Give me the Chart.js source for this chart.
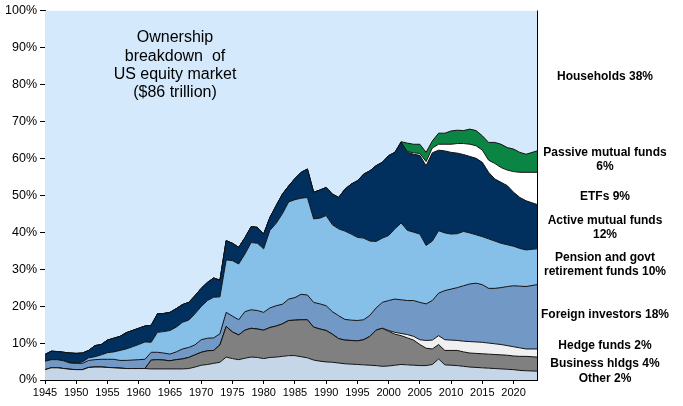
<!DOCTYPE html>
<html>
<head>
<meta charset="utf-8">
<script src="https://cdn.jsdelivr.net/npm/chart.js@4/dist/chart.umd.min.js"></script>
<style>
    html, body { margin: 0; padding: 0; background: #fff; }
    #wrap { width: 683px; height: 406px; }
</style>
</head>
<body>
<div id="wrap"><canvas id="chart-own" width="683" height="406"></canvas></div>
<script>
// share of US equity market (%), one point per year, last point = 2023 Q3
const years = [
    1945, 1946, 1947, 1948, 1949, 1950, 1951, 1952, 1953, 1954,
    1955, 1956, 1957, 1958, 1959, 1960, 1961, 1962, 1963, 1964,
    1965, 1966, 1967, 1968, 1969, 1970, 1971, 1972, 1973, 1974,
    1975, 1976, 1977, 1978, 1979, 1980, 1981, 1982, 1983, 1984,
    1985, 1986, 1987, 1988, 1989, 1990, 1991, 1992, 1993, 1994,
    1995, 1996, 1997, 1998, 1999, 2000, 2001, 2002, 2003, 2004,
    2005, 2006, 2007, 2008, 2009, 2010, 2011, 2012, 2013, 2014,
    2015, 2016, 2017, 2018, 2019, 2020, 2021, 2022, 2023.75,
];

const other = [
    2.8, 3.3, 3.3, 3.1, 2.9, 2.8, 2.8, 3.4, 3.5, 3.5,
    3.4, 3.3, 3.2, 3.1, 3.1, 3.1, 3.1, 3.0, 3.0, 3.0,
    3.0, 3.0, 3.0, 3.1, 3.5, 4.0, 4.2, 4.5, 4.8, 6.2,
    5.8, 5.5, 5.9, 6.2, 6.1, 5.8, 6.1, 6.2, 6.4, 6.6,
    6.6, 6.3, 6.0, 5.4, 5.1, 4.9, 4.8, 4.6, 4.4, 4.3,
    4.2, 4.1, 4.0, 3.9, 3.7, 3.8, 4.0, 4.2, 4.1, 4.0,
    3.9, 3.9, 4.2, 5.7, 4.1, 4.0, 3.9, 3.7, 3.5, 3.4,
    3.3, 3.2, 3.1, 3.0, 2.9, 2.8, 2.6, 2.5, 2.4,
];
const business = [
    0, 0, 0, 0, 0, 0, 0, 0, 0, 0,
    0, 0, 0, 0, 0, 0, 0, 2.4, 2.5, 2.4,
    2.2, 2.5, 2.7, 3.0, 3.3, 3.5, 3.7, 3.5, 4.7, 8.3,
    7.2, 6.7, 7.6, 7.8, 7.7, 7.7, 8.1, 8.4, 8.8, 9.5,
    9.6, 10.0, 10.3, 8.9, 8.7, 8.5, 7.6, 6.6, 6.4, 6.4,
    6.4, 6.8, 7.8, 9.6, 10.3, 9.4, 8.4, 7.8, 7.3, 6.8,
    5.7, 4.7, 4.2, 3.9, 3.9, 4.0, 4.1, 3.9, 3.8, 3.8,
    3.8, 3.8, 3.8, 3.8, 3.8, 3.7, 3.8, 3.9, 3.8,
];
const hedge = [
    0, 0, 0, 0, 0, 0, 0, 0, 0, 0,
    0, 0, 0, 0, 0, 0, 0, 0, 0, 0,
    0, 0, 0, 0, 0, 0, 0, 0, 0, 0,
    0, 0, 0, 0, 0, 0, 0, 0, 0, 0,
    0, 0, 0, 0, 0, 0, 0, 0, 0, 0,
    0, 0, 0, 0, 0, 0.2, 0.5, 0.6, 0.9, 1.0,
    1.3, 2.1, 2.4, 2.4, 2.9, 2.8, 2.7, 2.9, 3.1, 3.1,
    3.1, 3.0, 2.9, 2.8, 2.6, 2.5, 2.3, 2.0, 2.2,
];
const foreign = [
    2.3, 2.2, 2.2, 2.1, 1.7, 1.7, 1.7, 1.9, 2.0, 2.1,
    2.2, 2.3, 2.1, 2.2, 2.3, 2.4, 2.5, 2.1, 2.0, 1.9,
    1.8, 2.1, 2.7, 2.7, 2.7, 3.4, 3.4, 3.4, 3.0, 3.8,
    4.3, 4.1, 5.0, 5.0, 5.0, 4.8, 5.3, 5.5, 5.3, 5.8,
    6.1, 6.9, 6.7, 6.7, 6.8, 6.7, 6.1, 6.2, 5.6, 5.5,
    5.5, 5.4, 5.7, 6.0, 7.0, 8.1, 9.0, 9.1, 9.2, 9.7,
    10.1, 9.9, 10.7, 11.5, 13.3, 13.8, 14.3, 15.0, 15.6, 15.9,
    15.6, 14.8, 15.0, 15.4, 16.0, 16.5, 16.7, 16.9, 17.4,
];
const pension = [
    0, 0, 0, 0, 0, 0.1, 0.4, 0.7, 0.8, 1.2,
    1.8, 2.0, 2.7, 3.1, 3.6, 4.1, 4.7, 2.7, 5.4, 5.8,
    6.4, 6.7, 7.2, 7.4, 8.4, 9.0, 10.2, 11.0, 10.0, 14.2,
    15.0, 15.1, 15.6, 18.2, 18.2, 17.2, 21.0, 22.3, 24.5, 26.3,
    26.5, 26.0, 26.4, 22.6, 23.2, 24.4, 23.5, 23.5, 23.9, 23.3,
    22.5, 22.1, 20.1, 18.0, 17.4, 17.6, 19.0, 20.8, 19.0, 18.5,
    18.5, 15.8, 16.1, 16.9, 15.6, 14.9, 14.6, 14.7, 13.8, 13.1,
    13.0, 13.4, 12.8, 12.0, 11.3, 10.7, 10.2, 9.9, 9.7,
];
const activeMF = [
    1.8, 2.3, 2.2, 2.3, 2.7, 2.6, 2.4, 2.0, 3.0, 2.8,
    3.4, 3.7, 3.8, 4.4, 4.4, 4.4, 4.3, 4.6, 5.0, 4.9,
    4.9, 5.0, 4.8, 4.8, 4.9, 4.9, 4.9, 5.2, 4.5, 5.2,
    4.7, 4.5, 4.4, 4.3, 4.3, 4.0, 3.5, 4.8, 5.3, 4.3,
    5.7, 7.0, 7.7, 7.2, 7.6, 7.6, 8.3, 8.5, 11.3, 13.5,
    15.3, 17.3, 19.0, 20.5, 20.5, 21.6, 20.7, 21.8, 21.1, 21.1,
    21.3, 21.6, 23.9, 21.8, 22.2, 22.1, 21.8, 20.8, 20.7, 20.7,
    20.1, 18.0, 16.8, 16.5, 16.0, 14.6, 13.8, 13.3, 12.0,
];
const etfs = [
    0, 0, 0, 0, 0, 0, 0, 0, 0, 0,
    0, 0, 0, 0, 0, 0, 0, 0, 0, 0,
    0, 0, 0, 0, 0, 0, 0, 0, 0, 0,
    0, 0, 0, 0, 0, 0, 0, 0, 0, 0,
    0, 0, 0, 0, 0, 0, 0, 0, 0, 0,
    0, 0, 0, 0, 0, 0, 0, 0, 0.2, 0.4,
    0.5, 1.1, 1.3, 1.6, 1.8, 2.2, 2.6, 3.0, 3.3, 3.4,
    3.3, 3.3, 4.2, 4.0, 4.2, 5.6, 6.8, 7.7, 8.7,
];
const passiveMF = [
    0, 0, 0, 0, 0, 0, 0, 0, 0, 0,
    0, 0, 0, 0, 0, 0, 0, 0, 0, 0,
    0, 0, 0, 0, 0, 0, 0, 0, 0, 0,
    0, 0, 0, 0, 0, 0, 0, 0, 0, 0,
    0, 0, 0, 0, 0, 0, 0, 0, 0, 0,
    0, 0, 0, 0, 0, 0, 0, 0.2, 2.3, 2.3,
    2.5, 2.5, 1.9, 3.0, 3.0, 3.6, 3.6, 3.5, 4.1, 4.1,
    3.9, 4.8, 5.7, 6.3, 6.1, 6.1, 5.4, 4.9, 5.8,
];
const households = [
    93.1, 92.2, 92.3, 92.5, 92.7, 92.8, 92.7, 92.0, 90.7, 90.4,
    89.2, 88.7, 88.2, 87.2, 86.6, 86.0, 85.4, 85.2, 82.1, 82.0,
    81.7, 80.7, 79.6, 79.0, 77.2, 75.2, 73.6, 72.4, 73.0, 62.3,
    63.0, 64.1, 61.5, 58.5, 58.7, 60.5, 56.0, 52.8, 49.7, 47.5,
    45.5, 43.8, 42.9, 49.2, 48.6, 47.9, 49.7, 50.6, 48.4, 47.0,
    46.1, 44.3, 43.4, 42.0, 41.1, 39.3, 38.4, 35.5, 35.9, 36.2,
    36.2, 38.4, 35.3, 33.2, 33.2, 32.6, 32.4, 32.5, 32.1, 32.5,
    33.9, 35.7, 35.7, 36.2, 37.1, 37.5, 38.4, 38.9, 38.0,
];

const yTicks = [0, 10, 20, 30, 40, 50, 60, 70, 80, 90, 100];

const titleLines = ['Ownership', 'breakdown  of', 'US equity market', '($86 trillion)'];

// labels on the right, [text, y]
const sideLabels = [
    ['Households 38%', 77],
    ['Passive mutual funds', 153], ['6%', 167],
    ['ETFs 9%', 197],
    ['Active mutual funds', 221], ['12%', 235],
    ['Pension and govt', 258], ['retirement funds 10%', 272],
    ['Foreign investors 18%', 315],
    ['Hedge funds 2%', 346],
    ['Business hldgs 4%', 364],
    ['Other 2%', 379],
];

const FONT = 'Arial, "Liberation Sans", sans-serif';

function layer(label, values, color, idx, border = 1) {
    return {
        label,
        data: values.map((v, i) => ({ x: years[i], y: v })),
        backgroundColor: color,
        borderColor: '#111',
        borderWidth: border,
        fill: idx === 0 ? 'origin' : '-1',
        pointRadius: 0,
        tension: 0,
    };
}

const textPlugin = {
    id: 'texts',
    afterDraw(chart) {
        const { ctx, chartArea } = chart;
        ctx.save();
        // right frame line
        ctx.strokeStyle = '#000';
        ctx.lineWidth = 1;
        ctx.beginPath();
        ctx.moveTo(Math.round(chartArea.right) + 0.5, chartArea.top);
        ctx.lineTo(Math.round(chartArea.right) + 0.5, chartArea.bottom);
        ctx.stroke();

        ctx.fillStyle = '#000';
        ctx.textAlign = 'center';
        ctx.textBaseline = 'middle';
        ctx.font = '16px ' + FONT;
        titleLines.forEach((t, i) => ctx.fillText(t, 175, 38 + i * 18.3));

        ctx.font = 'bold 12px ' + FONT;
        for (const [t, y] of sideLabels) ctx.fillText(t, 605, y);
        ctx.restore();
    },
};

new Chart(document.getElementById('chart-own'), {
    type: 'line',
    data: {
        datasets: [
            layer('Other', other, '#c6d6e9', 0),
            layer('Business hldgs', business, '#808080', 1),
            layer('Hedge funds', hedge, '#f0f0f0', 2),
            layer('Foreign investors', foreign, '#7299c6', 3),
            layer('Pension and govt retirement funds', pension, '#86bfe8', 4),
            layer('Active mutual funds', activeMF, '#02305e', 5),
            layer('ETFs', etfs, '#ffffff', 6),
            layer('Passive mutual funds', passiveMF, '#0a8543', 7),
            layer('Households', households, '#d4e9fc', 8, 0),
        ],
    },
    options: {
        responsive: false,
        animation: false,
        layout: { padding: { top: 9, right: 146, left: 0, bottom: 0 } },
        plugins: {
            legend: { display: false },
            tooltip: { enabled: false },
        },
        scales: {
            x: {
                type: 'linear',
                min: 1945,
                max: 2023.75,
                grid: { drawOnChartArea: false, drawTicks: true, tickLength: 4, color: '#000' },
                border: { color: '#000', width: 1 },
                afterFit: s => { s.height = 26; },
                ticks: {
                    stepSize: 5,
                    includeBounds: false,
                    autoSkip: false,
                    maxRotation: 0,
                    padding: 2,
                    color: '#000',
                    font: { family: FONT, size: 11 },
                    callback: v => String(v),
                },
            },
            y: {
                stacked: true,
                min: 0,
                max: 100,
                grid: { drawOnChartArea: false, drawTicks: true, tickLength: 5, color: '#000' },
                border: { color: '#000', width: 1 },
                afterFit: s => { s.width = 45; },
                afterBuildTicks: s => { s.ticks = yTicks.map(v => ({ value: v })); },
                ticks: {
                    padding: 3,
                    color: '#000',
                    font: { family: FONT, size: 12.5 },
                    callback: v => v + '%',
                },
            },
        },
    },
    plugins: [textPlugin],
});
</script>
</body>
</html>
